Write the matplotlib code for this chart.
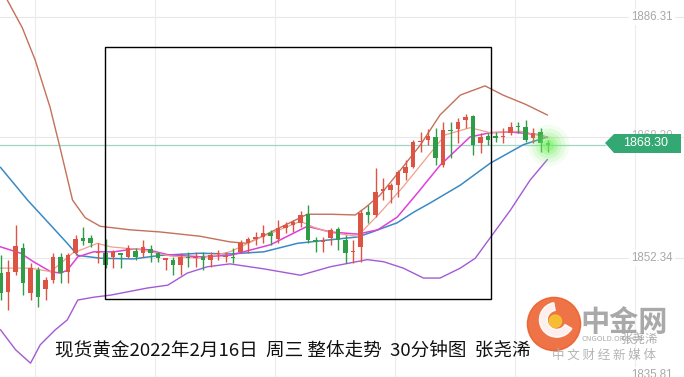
import matplotlib
matplotlib.use('Agg')
import matplotlib.pyplot as plt
from matplotlib.patches import Rectangle, Polygon, Circle, Wedge

plt.rcParams['font.family'] = ['Noto Sans CJK SC', 'DejaVu Sans']

# 30-min gold candles (open, high, low, close)
opens = [1850.2, 1847.5, 1850.4, 1853.7, 1847.4, 1850.6, 1848.0, 1849.2, 1852.5, 1850.4,
         1853.0, 1855.2, 1855.2, 1853.0, 1853.0, 1852.5, 1852.9, 1852.5, 1853.3, 1853.0,
         1853.6, 1853.0, 1852.1, 1852.1, 1851.3, 1852.5, 1852.3, 1852.5, 1852.1, 1852.9,
         1852.5, 1852.5, 1853.2, 1854.5, 1855.0, 1855.3, 1855.9, 1855.0, 1856.6, 1857.0,
         1857.3, 1858.5, 1854.9, 1854.6, 1855.2, 1856.4, 1854.9, 1853.2, 1853.9, 1858.8,
         1858.4, 1861.8, 1861.9, 1862.6, 1864.3, 1865.2, 1868.7, 1869.0, 1869.4, 1865.4,
         1870.4, 1870.5, 1871.8, 1872.4, 1868.5, 1869.5, 1869.4, 1869.4, 1870.0, 1870.9,
         1870.8, 1869.3, 1870.1, 1868.5]
highs = [1852.8, 1852.1, 1857.0, 1854.5, 1851.6, 1851.1, 1849.7, 1853.0, 1853.0, 1853.0,
         1855.6, 1856.7, 1855.6, 1854.5, 1855.0, 1853.5, 1853.0, 1854.2, 1853.7, 1854.9,
         1854.2, 1853.2, 1852.4, 1852.5, 1853.0, 1853.2, 1853.2, 1853.2, 1853.2, 1853.5,
         1853.2, 1853.7, 1854.9, 1855.3, 1856.0, 1857.0, 1856.3, 1857.7, 1857.4, 1857.7,
         1859.0, 1859.8, 1855.3, 1855.3, 1856.6, 1856.7, 1855.6, 1854.9, 1859.1, 1859.8,
         1865.0, 1863.6, 1862.9, 1864.7, 1866.2, 1869.0, 1870.1, 1870.5, 1870.7, 1871.5,
         1871.5, 1872.1, 1872.6, 1872.5, 1870.0, 1870.0, 1870.1, 1870.7, 1871.5, 1871.5,
         1871.8, 1870.7, 1870.7, 1869.0]
lows = [1846.4, 1845.0, 1849.9, 1847.1, 1846.4, 1845.4, 1846.4, 1848.8, 1848.8, 1848.8,
        1852.8, 1854.2, 1853.9, 1851.6, 1850.9, 1850.9, 1850.9, 1852.3, 1852.1, 1852.5,
        1851.8, 1851.8, 1850.6, 1849.9, 1849.9, 1851.1, 1851.1, 1850.6, 1851.1, 1852.1,
        1851.8, 1851.6, 1853.0, 1853.0, 1854.2, 1854.5, 1854.2, 1854.5, 1855.9, 1856.0,
        1856.7, 1854.5, 1853.2, 1853.2, 1854.2, 1853.5, 1851.6, 1851.6, 1851.8, 1857.3,
        1858.1, 1860.5, 1860.1, 1860.9, 1863.3, 1865.0, 1867.3, 1868.3, 1865.4, 1865.2,
        1866.4, 1868.6, 1870.7, 1866.9, 1867.1, 1868.3, 1868.7, 1868.6, 1869.7, 1870.0,
        1868.7, 1868.6, 1867.3, 1867.3]
closes = [1847.4, 1850.4, 1854.0, 1848.8, 1850.9, 1846.8, 1849.2, 1852.5, 1850.2, 1852.8,
          1855.0, 1854.7, 1854.5, 1853.1, 1851.3, 1853.2, 1852.8, 1853.7, 1852.5, 1853.9,
          1853.0, 1852.3, 1852.3, 1851.3, 1852.5, 1852.3, 1852.5, 1852.1, 1852.8, 1853.0,
          1852.6, 1852.3, 1854.5, 1855.0, 1855.3, 1855.9, 1855.4, 1856.6, 1857.0, 1857.4,
          1858.4, 1854.9, 1854.6, 1854.9, 1856.3, 1854.9, 1853.0, 1853.3, 1858.7, 1858.4,
          1861.6, 1862.0, 1862.6, 1864.5, 1865.2, 1868.7, 1868.8, 1869.5, 1866.4, 1870.4,
          1870.2, 1871.5, 1872.2, 1868.3, 1869.4, 1869.0, 1869.3, 1869.5, 1870.8, 1870.8,
          1869.0, 1870.0, 1868.6, 1868.3]

# indicator lines (candle index, price)
upper_x = [0, 0.9, 2.9, 4.6, 6.6, 8.0, 9.6, 11.3, 13.3, 17.3, 21.3, 26.6, 30.6, 32.9, 35.3,
           38.0, 40.9, 44.0, 47.3, 48.6, 50.6, 53.3, 56.0, 58.6, 61.3, 64.6, 67.0, 70.0, 72.9]
upper_y = [1890.8, 1888.7, 1884.8, 1880.3, 1873.6, 1867.6, 1860.5, 1858.0, 1856.8, 1856.3,
           1856.0, 1855.4, 1854.6, 1854.4, 1855.6, 1857.0, 1858.5, 1858.5, 1858.4, 1859.4,
           1861.2, 1864.7, 1868.3, 1872.5, 1875.3, 1876.6, 1875.3, 1874.0, 1872.5]
lower_x = [0, 2.0, 4.0, 5.3, 7.3, 8.9, 10.3, 12.4, 14.7, 19.6, 22.3, 24.9, 27.6, 30.6, 35.1,
           40.0, 44.0, 48.9, 51.1, 53.7, 56.4, 58.6, 61.3, 63.3, 65.3, 68.0, 70.6, 72.9]
lower_y = [1842.2, 1839.4, 1837.5, 1840.1, 1842.2, 1843.6, 1846.4, 1846.8, 1847.1, 1848.1,
           1848.5, 1850.2, 1851.1, 1851.5, 1850.8, 1849.9, 1851.1, 1852.1, 1851.8, 1850.9,
           1849.5, 1849.5, 1850.9, 1852.3, 1855.2, 1859.1, 1863.3, 1866.2]
mid_x = [0, 3.6, 6.3, 8.9, 10.3, 13.3, 17.7, 21.3, 26.6, 30.6, 35.1, 39.6, 44.0, 47.6, 49.3,
         52.9, 55.1, 57.3, 61.3, 65.3, 69.7, 72.9]
mid_y = [1865.1, 1860.5, 1857.4, 1854.4, 1852.7, 1852.3, 1852.2, 1852.7, 1853.0, 1852.9,
         1853.2, 1854.4, 1854.9, 1855.3, 1855.9, 1857.3, 1858.8, 1860.1, 1862.6, 1865.7,
         1868.3, 1869.4]
ma10_x = [0, 2.7, 4.4, 6.7, 8.0, 8.9, 10.3, 12.4, 15.1, 17.7, 19.6, 22.3, 26.6, 30.6, 36.0,
          40.9, 44.0, 47.6, 50.3, 52.9, 55.6, 58.6, 62.6, 65.3, 68.0, 72.0, 72.9]
ma10_y = [1853.9, 1853.0, 1851.8, 1850.4, 1850.2, 1850.6, 1852.5, 1853.2, 1853.2, 1853.6,
          1853.5, 1852.8, 1852.5, 1852.7, 1854.2, 1856.8, 1856.0, 1855.7, 1856.3, 1858.1,
          1861.5, 1865.4, 1869.4, 1870.0, 1870.1, 1869.7, 1869.3]
ma5_x = [0, 4.0, 6.7, 9.6, 12.9, 14.7, 18.7, 22.7, 26.6, 30.6, 34.6, 40.0, 41.7, 44.0, 47.6,
         50.6, 53.7, 57.3, 59.3, 62.6, 65.3, 69.3, 72.9]
ma5_y = [1850.9, 1850.9, 1850.4, 1853.0, 1854.4, 1853.9, 1853.5, 1852.6, 1852.3, 1853.2,
         1855.2, 1857.5, 1856.7, 1855.9, 1855.4, 1858.7, 1862.4, 1867.1, 1869.7, 1870.7,
         1870.0, 1870.2, 1869.4]

last_price = 1868.30
axis_labels = ['1886.31', '1852.34', '1835.81']
axis_values = [1886.31, 1852.34, 1835.81]
caption = '现货黄金2022年2月16日  周三 整体走势  30分钟图  张尧浠'

W, H = 684, 377
fig = plt.figure(figsize=(W / 100, H / 100), dpi=100)
ax = fig.add_axes([0, 0, 1, 1])
ax.set_xlim(-0.07, 91.13)
ax.set_ylim(1835.55, 1888.71)
ax.axis('off')


def px(x, y):
    return (x / W, 1 - y / H)


# grid
for v in [1886.31, 1869.4, 1852.34, 1835.55]:
    ax.axhline(v, color='#e8e8e8', lw=0.8, zorder=0)
for gx in [4.6, 20.6, 36.6, 52.6, 68.6, 84.6]:
    ax.axvline(gx, color='#ececec', lw=0.8, zorder=0)
ax.axhline(last_price, color='#9ed6c2', lw=0.9, zorder=1, xmax=605 / W)

# bands and averages
ax.plot(upper_x, upper_y, color='#c4705a', lw=1.0, zorder=2)
ax.plot(lower_x, lower_y, color='#a35ad6', lw=1.0, zorder=2)
ax.plot(mid_x, mid_y, color='#3a8ac4', lw=1.1, zorder=2)
ax.plot(ma10_x, ma10_y, color='#e040d8', lw=1.1, zorder=2)
ax.plot(ma5_x, ma5_y, color='#f0a08c', lw=0.9, zorder=2)

# candles
for i in range(len(opens)):
    o, h, l, c = opens[i], highs[i], lows[i], closes[i]
    col = '#dc5444' if c >= o else '#2f9c48'
    ax.vlines(i, l, h, color=col, lw=1.0, zorder=3)
    body = max(abs(c - o), 0.18)
    ax.bar(i, body, bottom=min(o, c), width=0.62, color=col, zorder=4, linewidth=0)

# glow on last candle
for s, a in [(900, 0.08), (600, 0.12), (350, 0.18), (180, 0.25), (70, 0.35)]:
    ax.scatter([len(opens) - 1], [last_price], s=s, color='#6ff05a', alpha=a,
               linewidths=0, zorder=5)

# right axis labels
lab_x = 631 / W * 91.2 - 0.07
for lab, v in zip(axis_labels, axis_values):
    ax.text(lab_x, v, lab, fontsize=8.3, color='#a8a8a8',
            va='center', ha='left', family=['Liberation Sans', 'DejaVu Sans'], zorder=6,
            bbox=dict(facecolor='white', edgecolor='none', pad=1.5))
ax.text(lab_x, 1869.6, '1868.30', fontsize=8.3, color='#b8b8b8',
        va='center', ha='left', family=['Liberation Sans', 'DejaVu Sans'], zorder=6)

# price tag
tag = Polygon([px(605, 143), px(614, 134), px(681, 134), px(681, 153), px(614, 153)],
              closed=True, transform=fig.transFigure, facecolor='#33a872',
              edgecolor='none', zorder=7)
fig.patches.append(tag)
fig.text(*px(646, 143.5), '1868.30', color='white', fontsize=9, ha='center', va='center',
         family=['Liberation Sans', 'DejaVu Sans'], zorder=8)

# highlight box
fig.patches.append(Rectangle(px(105, 299), (491 - 105) / W, (299 - 47) / H,
                             transform=fig.transFigure, fill=False,
                             edgecolor='black', lw=1.0, zorder=9))

# watermark logo
lax = fig.add_axes([526 / W, 1 - 354 / H, 56 / W, 60 / H])
lax.set_xlim(-1, 1)
lax.set_ylim(-1, 1)
lax.set_aspect('equal')
lax.axis('off')
lax.add_patch(Circle((0, 0), 0.95, color='#ec5a26', alpha=0.85))
lax.add_patch(Wedge((0.1, 0.15), 0.62, 100, 330, width=0.28, color='white', alpha=0.9))
lax.add_patch(Circle((0.05, 0.1), 0.22, color='#f7c531', alpha=0.9))

fig.text(*px(624, 322), '中金网', fontsize=21, color='#8c8c8c', alpha=0.75,
         ha='center', va='center', fontweight='bold', zorder=10)
fig.text(*px(612, 339), 'CNGOLD.ORG.CN', fontsize=5.5, color='#aaaaaa',
         ha='center', va='center', zorder=10)
fig.text(*px(640, 339), '张尧浠', fontsize=9, color='#9a9a9a', alpha=0.8,
         ha='center', va='center', zorder=10)
fig.text(*px(604, 355), '中 文 财 经 新 媒 体', fontsize=9, color='#b5b5b5',
         ha='center', va='center', zorder=10)

# caption
fig.text(*px(55, 350), caption, fontsize=13.4, color='#111111', ha='left', va='center',
         zorder=11)

fig.savefig('out.png', dpi=100)
